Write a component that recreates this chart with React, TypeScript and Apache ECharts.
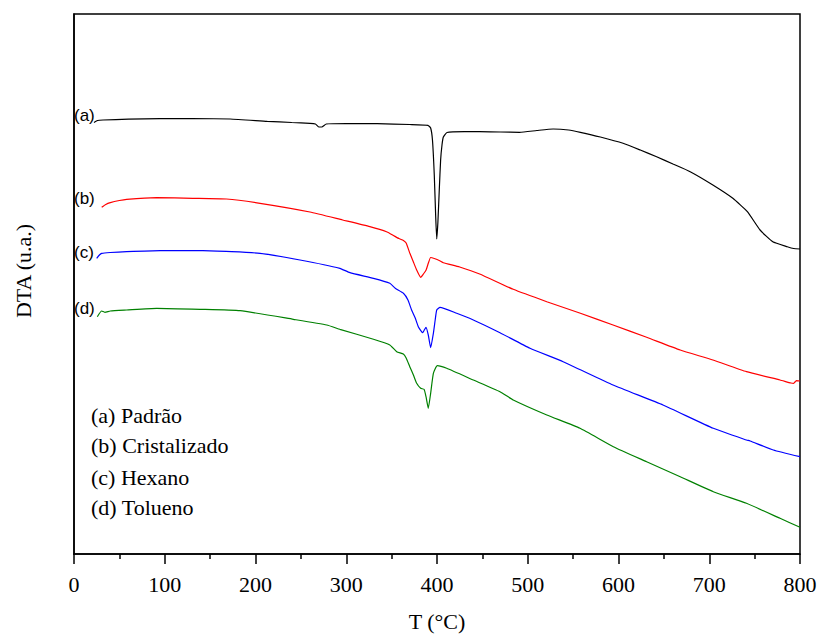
import React, { useEffect, useRef } from "react";
import * as echarts from "echarts";

// T (°C) samples and DTA (u.a.) values per curve
const tA = [22, 26, 32, 60, 95, 130, 172, 213, 240, 260, 266, 270, 273, 278, 300, 334, 370, 390, 393, 395, 397, 398.5, 399.7, 401, 402.5, 404, 405.5, 407, 411, 430, 447, 470, 491, 510, 528, 545, 558, 580, 605, 624, 642, 660, 679, 704, 726, 742, 756, 770, 786, 793, 800];
const vA = [431.5, 433.5, 434, 434.8, 435.3, 435.5, 435, 432.7, 431.5, 430.7, 430, 427, 427, 430, 430.5, 430.3, 429.5, 428.7, 426, 414, 379, 339, 315, 332, 364, 394, 409, 417, 421.5, 422.3, 422.3, 422, 421.7, 423.5, 425, 424, 421.7, 417, 410.7, 404, 397.3, 390, 382.3, 369, 355.7, 342.3, 324, 312.3, 307.3, 305.5, 305];

const tB = [30.5, 35, 40, 50, 58, 91, 131, 168, 205, 260, 296, 326, 345, 352, 358, 363, 366, 370, 374, 377.6, 382, 385, 388, 390.5, 393, 397, 403, 407, 425, 447, 484, 521, 558, 594, 631, 668, 704, 741, 778, 790, 793, 796, 800];
const vB = [346.7, 349.5, 351.3, 353.5, 354.7, 356.3, 355.7, 355, 350.7, 342, 334, 327.3, 322, 318.5, 315.5, 313.5, 311, 301, 292, 284, 276.7, 280, 284, 291, 296.5, 295.5, 293.3, 291.3, 287, 280, 264.7, 252.3, 240.7, 229, 216.7, 204, 194, 182.3, 174, 171, 170.7, 173.3, 173];

const tC = [25, 28, 30.5, 40, 58, 95, 142, 205, 249, 293, 304, 330, 348, 354, 363, 368, 372, 376, 379.4, 384.2, 386, 387.9, 390.4, 393, 396, 398, 399.7, 403.3, 421.7, 440, 469.4, 502.5, 539, 594, 649, 704.5, 741, 745, 770.6, 800];
const vC = [295.7, 299, 300.7, 301.5, 302.3, 303.3, 303.3, 300.7, 294, 285.7, 281.3, 275.7, 270.7, 265.7, 260.7, 254, 244, 236, 227.3, 221.3, 224, 226.7, 219, 206.3, 220.7, 234, 244, 246.7, 240.7, 234, 221.3, 205.7, 192.3, 169, 149, 125.7, 114, 113, 104, 97.3];

const tD = [25.7, 30.5, 34, 40, 58, 91, 139, 183, 241.7, 278.5, 293, 330, 348, 355.6, 362.9, 366, 370, 374, 377.6, 382, 385.7, 387.9, 390.4, 393, 396, 400.3, 410.7, 440, 469.4, 484, 521, 557.6, 594.3, 631, 668, 704.5, 741, 778, 800];
const vD = [237.3, 243, 241.7, 243, 244, 245.7, 244.7, 243.3, 234.7, 229, 224.7, 214.7, 209, 202.3, 200, 196, 187.3, 179, 170.7, 165.7, 164.7, 157.3, 145.7, 160.7, 180.7, 188.3, 185.7, 174, 162.3, 154, 139, 125.7, 107.3, 92.3, 77.3, 62.3, 50.7, 35.7, 26.7];

const curveTags = ["(a)", "(b)", "(c)", "(d)"];
const legendLines = ["(a) Padrão", "(b) Cristalizado", "(c) Hexano", "(d) Tolueno"];
const colors = ["#000000", "#ff0000", "#0000ff", "#008000"];
const xTicks = [0, 800, 100];

const serif = "'Liberation Serif', 'Times New Roman', serif";
const sans = "'Liberation Sans', Arial, sans-serif";

const zip = (t: number[], v: number[]) => t.map((x, i) => [x, v[i]]);

export default function App() {
  const ref = useRef<HTMLDivElement>(null);
  useEffect(() => {
    if (!ref.current) return;
    const chart = echarts.init(ref.current, null, { renderer: "svg" });
    const sets = [zip(tA, vA), zip(tB, vB), zip(tC, vC), zip(tD, vD)];
    const tagY = [115, 198, 252, 308];
    const legY = [415, 445, 477, 507];
    chart.setOption({
      animation: false,
      backgroundColor: "#ffffff",
      grid: {
        left: 74,
        right: 21,
        top: 14,
        bottom: 82,
        outerBoundsMode: "none",
        containLabel: false,
        show: true,
        borderColor: "#000",
        borderWidth: 1.5,
        backgroundColor: "transparent",
      },
      xAxis: {
        type: "value",
        min: xTicks[0],
        max: xTicks[1],
        interval: xTicks[2],
        name: "T (°C)",
        nameLocation: "middle",
        nameGap: 56,
        nameTextStyle: { fontFamily: serif, fontSize: 22, color: "#000" },
        axisLine: { show: true, lineStyle: { color: "#000", width: 1.5 } },
        axisTick: { show: true, length: 10, lineStyle: { color: "#000", width: 1.5 } },
        minorTick: { show: true, splitNumber: 2, length: 5, lineStyle: { color: "#000", width: 1.5 } },
        axisLabel: { fontFamily: serif, fontSize: 22, color: "#000", margin: 19 },
        splitLine: { show: false },
      },
      yAxis: {
        type: "value",
        min: 0,
        max: 540,
        axisLine: { show: true, lineStyle: { color: "#000", width: 1.5 } },
        axisTick: { show: false },
        axisLabel: { show: false },
        splitLine: { show: false },
      },
      series: sets.map((d, i) => ({
        type: "line",
        data: d,
        showSymbol: false,
        smooth: 0.15,
        lineStyle: { color: colors[i], width: 1.2 },
        itemStyle: { color: colors[i] },
      })),
      graphic: [
        {
          type: "text",
          x: 23,
          y: 271,
          rotation: Math.PI / 2,
          style: {
            text: "DTA (u.a.)",
            fontFamily: serif,
            fontSize: 22,
            fill: "#000",
            align: "center",
            verticalAlign: "middle",
          },
        },
        ...curveTags.map((t, i) => ({
          type: "text",
          x: 74,
          y: tagY[i],
          style: { text: t, fontFamily: sans, fontSize: 17, fill: "#000", align: "left", verticalAlign: "middle" },
        })),
        ...legendLines.map((t, i) => ({
          type: "text",
          x: 91,
          y: legY[i],
          style: { text: t, fontFamily: serif, fontSize: 22, fill: "#000", align: "left", verticalAlign: "middle" },
        })),
      ],
    });
    return () => chart.dispose();
  }, []);
  return (
    <div
      ref={ref}
      style={{ position: "fixed", left: 0, top: 0, width: 821, height: 636, background: "#fff" }}
    />
  );
}
